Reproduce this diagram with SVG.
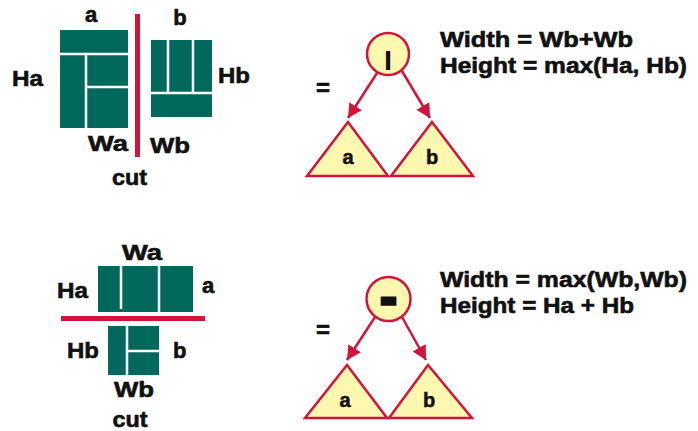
<svg xmlns="http://www.w3.org/2000/svg" width="698" height="431" viewBox="0 0 698 431">
<style>
.blk{fill:#00695C}
.sep{stroke:#fff;stroke-width:2.5;fill:none}
.cut{fill:#D2143A}
.lbl{font-family:"Liberation Sans",Arial,sans-serif;font-weight:bold;font-size:22px;fill:#111;stroke:#111;stroke-width:0.6}
.eq{font-family:"Liberation Sans",Arial,sans-serif;font-weight:bold;font-size:22px;fill:#111;stroke:#111;stroke-width:0.6}
.tri{fill:#FCF8B0;stroke:#D2143A;stroke-width:2.5;stroke-linejoin:miter}
.op{fill:#FCF8B0;stroke:#D2143A;stroke-width:2.5}
.tl{font-family:"Liberation Sans",Arial,sans-serif;font-weight:bold;font-size:20px;fill:#111;stroke:#111;stroke-width:0.5;text-anchor:middle}
.arr{stroke:#D2143A;stroke-width:2.5;fill:none}
</style>
<defs>
<marker id="ah" markerUnits="userSpaceOnUse" markerWidth="15" markerHeight="15" refX="14" refY="7.5" orient="auto">
<path d="M0,0 L14,7.5 L0,15 z" fill="#D2143A"/>
</marker>
</defs>

<!-- Top: vertical cut -->
<g id="top-block-a">
<rect class="blk" x="60" y="30" width="68" height="98"/>
<path class="sep" d="M60,54 H128 M86,54 V128 M86,87 H128"/>
<text class="lbl" x="91" y="22" text-anchor="middle">a</text>
<text class="lbl" x="12" y="86" textLength="31" lengthAdjust="spacingAndGlyphs">Ha</text>
<text class="lbl" x="88" y="151" textLength="40" lengthAdjust="spacingAndGlyphs">Wa</text>
</g>
<g id="top-cut">
<rect class="cut" x="135" y="14" width="5" height="143"/>
<text class="lbl" x="112" y="185" textLength="35" lengthAdjust="spacingAndGlyphs">cut</text>
</g>
<g id="top-block-b">
<rect class="blk" x="151" y="40" width="61" height="77"/>
<path class="sep" d="M151,93 H212 M168,40 V93 M193,40 V93"/>
<text class="lbl" x="180" y="25" text-anchor="middle">b</text>
<text class="lbl" x="218" y="83" textLength="32" lengthAdjust="spacingAndGlyphs">Hb</text>
<text class="lbl" x="150" y="153" textLength="40" lengthAdjust="spacingAndGlyphs">Wb</text>
</g>
<g id="top-eq">
<text class="lbl" x="323" y="96" text-anchor="middle" style="font-size:24px">=</text>
</g>
<g id="top-op">
<circle class="op" cx="388" cy="54" r="21"/>
<text class="eq" x="388" y="65" text-anchor="middle" style="font-size:18px;stroke-width:1.8">|</text>
</g>
<g id="top-tri-a">
<polygon class="tri" points="348,122 307,176 388,176"/>
<text class="tl" x="348" y="164">a</text>
</g>
<g id="top-tri-b">
<polygon class="tri" points="432,122 391,176 473,176"/>
<text class="tl" x="432" y="164">b</text>
</g>
<g id="top-formula">
<text class="eq" x="440" y="47" textLength="193" lengthAdjust="spacingAndGlyphs">Width = Wb+Wb</text>
<text class="eq" x="440" y="73" textLength="247" lengthAdjust="spacingAndGlyphs">Height = max(Ha, Hb)</text>
</g>

<!-- Bottom: horizontal cut -->
<g id="bottom-block-a">
<rect class="blk" x="98" y="266" width="95" height="46"/>
<path class="sep" d="M121,266 V309 M159,266 V312"/>
<text class="lbl" x="142" y="260" text-anchor="middle" textLength="40" lengthAdjust="spacingAndGlyphs">Wa</text>
<text class="lbl" x="57" y="298" textLength="31" lengthAdjust="spacingAndGlyphs">Ha</text>
<text class="lbl" x="202" y="293">a</text>
</g>
<g id="bottom-cut">
<rect class="cut" x="61" y="316" width="144" height="5"/>
<text class="lbl" x="130" y="427" text-anchor="middle" textLength="35" lengthAdjust="spacingAndGlyphs">cut</text>
</g>
<g id="bottom-block-b">
<rect class="blk" x="108" y="326" width="51" height="49"/>
<path class="sep" d="M127,326 V375 M127,351 H159"/>
<text class="lbl" x="67" y="358" textLength="32" lengthAdjust="spacingAndGlyphs">Hb</text>
<text class="lbl" x="173" y="358">b</text>
<text class="lbl" x="134" y="397" text-anchor="middle" textLength="40" lengthAdjust="spacingAndGlyphs">Wb</text>
</g>
<g id="bottom-eq">
<text class="lbl" x="323" y="338" text-anchor="middle" style="font-size:24px">=</text>
</g>
<g id="bottom-op">
<circle class="op" cx="388.5" cy="299" r="22"/>
<text class="eq" x="388.5" y="314" text-anchor="middle" style="font-size:48px;stroke-width:3.5">-</text>
</g>
<g id="bottom-tri-a">
<polygon class="tri" points="347,365 305,418 387,418"/>
<text class="tl" x="345" y="407">a</text>
</g>
<g id="bottom-tri-b">
<polygon class="tri" points="428,365 389,418 472,418"/>
<text class="tl" x="429" y="407">b</text>
</g>
<g id="bottom-formula">
<text class="eq" x="440" y="287" textLength="247" lengthAdjust="spacingAndGlyphs">Width = max(Wb,Wb)</text>
<text class="eq" x="440" y="313" textLength="194" lengthAdjust="spacingAndGlyphs">Height = Ha + Hb</text>
</g>

<g id="connectors">
<line class="arr" x1="377" y1="73" x2="348" y2="118" marker-end="url(#ah)"/>
<line class="arr" x1="402" y1="71" x2="430" y2="118" marker-end="url(#ah)"/>
<line class="arr" x1="375" y1="317" x2="347" y2="360" marker-end="url(#ah)"/>
<line class="arr" x1="402" y1="317" x2="426" y2="360" marker-end="url(#ah)"/>
</g>
</svg>
